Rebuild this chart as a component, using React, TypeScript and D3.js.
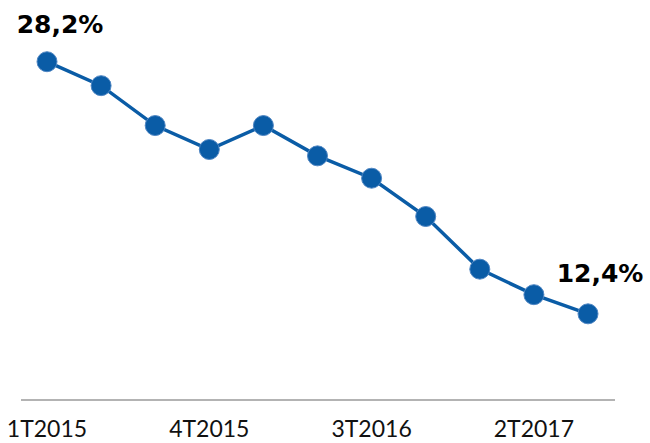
import React, { useRef, useEffect } from 'react'
import * as d3 from 'd3'

const quarters = ['1T2015', '2T2015', '3T2015', '4T2015', '1T2016', '2T2016', '3T2016', '4T2016', '1T2017', '2T2017', '3T2017']
const values = [28.2, 26.7, 24.2, 22.7, 24.2, 22.3, 20.9, 18.5, 15.2, 13.6, 12.4]
const tickLabels = ['1T2015', '4T2015', '3T2016', '2T2017']

const fmt = (v: number) => v.toFixed(1).replace('.', ',') + '%'

const App = () => {
  const chart = useRef<SVGSVGElement>(null)
  const dims = { width: 650, height: 443 }

  useEffect(() => {
    const svg = d3.select(chart.current)
    svg.selectAll('*').remove()

    const x = d3.scalePoint<string>()
                .domain(quarters)
                .range([47, 588])

    const y = d3.scaleLinear()
                .domain([7, 30])
                .range([400, 33])

    // baseline
    svg.append('line')
        .attr('x1', 21).attr('x2', 615)
        .attr('y1', y(7)).attr('y2', y(7))
        .attr('stroke', '#9a9a9a')
        .attr('stroke-width', 1.3)

    svg.selectAll('text.tick')
        .data(tickLabels)
        .enter()
        .append('text')
        .attr('class', 'tick')
        .attr('x', d => x(d)!)
        .attr('y', 437)
        .attr('text-anchor', 'middle')
        .attr('font-family', 'Lato, sans-serif')
        .attr('font-size', 23)
        .attr('fill', '#111')
        .text(d => d)

    const line = d3.line<number>()
                   .x((d, i) => x(quarters[i])!)
                   .y(d => y(d))

    svg.append('path')
        .datum(values)
        .attr('d', line)
        .attr('fill', 'none')
        .attr('stroke', '#0a5ca6')
        .attr('stroke-width', 3.5)

    svg.selectAll('circle')
        .data(values)
        .enter()
        .append('circle')
        .attr('cx', (d, i) => x(quarters[i])!)
        .attr('cy', d => y(d))
        .attr('r', 10)
        .attr('fill', '#0a5ca6')
        .attr('stroke', '#4f86c3')
        .attr('stroke-width', 1)

    const last = values.length - 1
    const labels = [
      { i: 0, dx: 13, dy: -29 },
      { i: last, dx: 12, dy: -32 }
    ]
    svg.selectAll('text.val')
        .data(labels)
        .enter()
        .append('text')
        .attr('class', 'val')
        .attr('x', d => x(quarters[d.i])! + d.dx)
        .attr('y', d => y(values[d.i]) + d.dy)
        .attr('text-anchor', 'middle')
        .attr('font-family', '"DejaVu Sans", sans-serif')
        .attr('font-weight', 'bold')
        .attr('font-size', 25)
        .attr('fill', '#000')
        .text(d => fmt(values[d.i]))
  }, [])

  return (
    <svg ref={chart} width={dims.width} height={dims.height}
         style={{ position: 'absolute', left: 0, top: 0 }}></svg>
  )
}

export default App
